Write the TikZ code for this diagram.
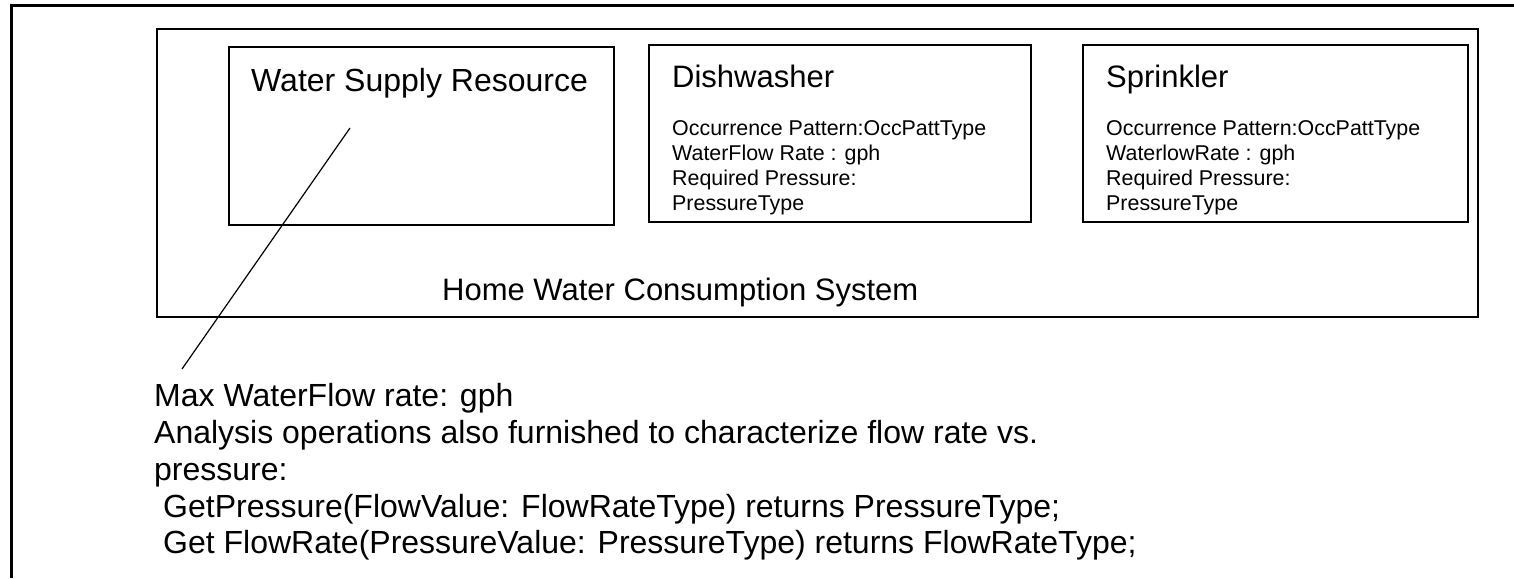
\documentclass[tikz,border=0pt]{standalone}
\usepackage{fontspec}
\setmainfont{Liberation Sans}
\begin{document}
\begin{tikzpicture}[x=1pt,y=-1pt,
  box/.style={draw=black,line width=1.8pt,anchor=north west,inner sep=0pt,outer sep=0pt},
  big/.style={font=\fontsize{32}{36.8}\selectfont,anchor=base west,inner sep=0pt},
  title/.style={font=\fontsize{31}{35.6}\selectfont,anchor=base west,inner sep=0pt},
  small/.style={font=\fontsize{21.4}{24.6}\selectfont,anchor=base west,inner sep=0pt},
  lead/.style={line width=1.2pt}]
\useasboundingbox (0,0) rectangle (1514,578);
% outer frame (left and top edges visible)
\draw[line width=3pt] (11,578) -- (11,5.5) -- (1514,5.5);
% boxes
\node[box,line width=2.2pt,minimum width=1321pt,minimum height=288pt] (home) at (157,29) {};
\node[box,minimum width=385pt,minimum height=178pt] (wsr) at (229,47) {};
\node[box,minimum width=382pt,minimum height=177pt] (dish) at (649,45) {};
\node[box,minimum width=385pt,minimum height=177pt] (spr) at (1083,45) {};
% titles
\node[big] (wsrT) at (251,91) {Water Supply Resource};
\node[title] (dishT) at (672,87) {Dishwasher};
\node[title] (sprT) at (1106,87) {Sprinkler};
\node[title] (homeT) at (442,300) {Home Water Consumption System};
% dishwasher attributes
\node[small] (d1) at (672,135) {Occurrence Pattern:OccPattType};
\node[small] (d2) at (672,160) {WaterFlow Rate : gph};
\node[small] (d3) at (672,185) {Required Pressure:};
\node[small] (d4) at (672,210) {PressureType};
% sprinkler attributes
\node[small] (s1) at (1106,135) {Occurrence Pattern:OccPattType};
\node[small] (s2) at (1106,160) {WaterlowRate : gph};
\node[small] (s3) at (1106,185) {Required Pressure:};
\node[small] (s4) at (1106,210) {PressureType};
% note
\node[big] (n1) at (154,406) {Max WaterFlow rate: gph};
\node[big] (n2) at (154,443) {Analysis operations also furnished to characterize flow rate vs.};
\node[big] (n3) at (154,480) {pressure:};
\node[big] (n4) at (163,517) {GetPressure(FlowValue: FlowRateType) returns PressureType;};
\node[big] (n5) at (163,553) {Get FlowRate(PressureValue: PressureType) returns FlowRateType;};
% leader line from resource to note
\coordinate (la) at (350,128);
\coordinate (lb) at (182,369);
\draw[lead] (la) -- (lb);
\end{tikzpicture}
\end{document}
